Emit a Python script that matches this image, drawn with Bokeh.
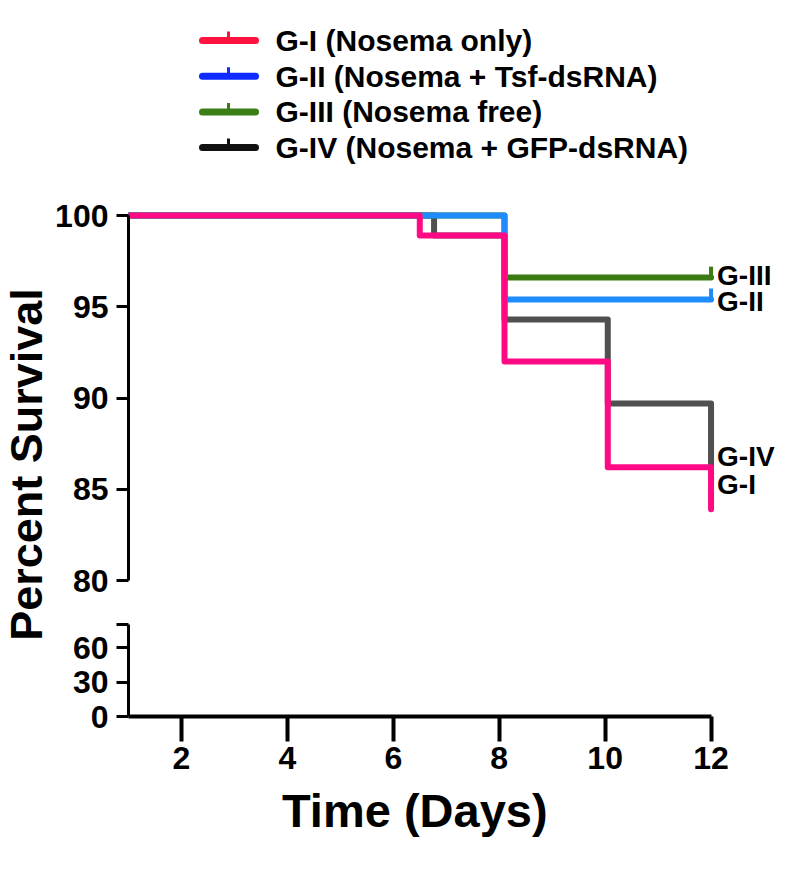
import math
from bokeh.plotting import figure
from bokeh.models import Range1d, FixedTicker, ColumnDataSource
from bokeh.layouts import column, row
from bokeh.embed import file_html
from bokeh.resources import INLINE
from bokeh.core.properties import value
from bokeh.core.validation import silence
from bokeh.core.validation.warnings import MISSING_RENDERERS

silence(MISSING_RENDERERS, True)

FONT = "Liberation Sans"

# ---------------- data ----------------
groups = ["G-I", "G-II", "G-III", "G-IV"]
legend_labels = ["G-I (Nosema only)", "G-II (Nosema + Tsf-dsRNA)",
                 "G-III (Nosema free)", "G-IV (Nosema + GFP-dsRNA)"]
legend_colors = ["#ff1240", "#0f2bff", "#3d7d18", "#111111"]
line_colors = ["#ff0a84", "#1e8cff", "#3b7b12", "#505050"]

g1_days = [1, 6.5, 8.1, 10.05, 12]
g1_surv = [100, 98.9, 92.0, 86.2, 83.9]
g2_days = [1, 8.1, 12]
g2_surv = [100, 95.4, 95.4]
g3_days = [1, 8.1, 12]
g3_surv = [100, 96.6, 96.6]
g4_days = [1, 6.77, 8.1, 10.05, 12]
g4_surv = [100, 98.9, 94.3, 89.7, 86.3]
censored_end = [False, True, True, False]

x_ticks = [2, 4, 6, 8, 10, 12]
x_bounds = (1, 12)
upper_ticks = [80, 85, 90, 95, 100]
lower_ticks = [0, 30, 60]
lower_cap = 80
x_title = "Time (Days)"
y_title = "Percent Survival"

series_days = [g1_days, g2_days, g3_days, g4_days]
series_surv = [g1_surv, g2_surv, g3_surv, g4_surv]

# ---------------- layout constants ----------------
W = 786
TW = 52
PW = W - TW
LB = 73
RB = 0
LEG_H = 168
UP_H = 432
LO_FRAME = 116
LO_H = LO_FRAME + 68
XT_H = 60
PX_DAY = 53.2
PX_UP = 18.25
PX_LO = 1.15

frame_w = PW - LB - RB
x_rng = Range1d(1, 1 + frame_w / PX_DAY)


def base(fig):
    fig.grid.visible = False
    fig.outline_line_color = None
    fig.background_fill_color = "white"
    fig.border_fill_color = "white"
    return fig


def style_axis(ax, width=3):
    ax.axis_line_width = width
    ax.axis_line_color = "black"
    ax.major_tick_line_width = width
    ax.major_tick_line_color = "black"
    ax.major_tick_in = 0
    ax.minor_tick_in = 0
    ax.minor_tick_out = 0
    ax.major_label_text_font = FONT
    ax.major_label_text_font_style = "bold"
    ax.major_label_text_font_size = "32px"
    ax.major_label_text_color = "black"


# ---------------- legend ----------------
leg = base(figure(width=W, height=LEG_H, x_range=Range1d(0, W), y_range=Range1d(0, LEG_H),
                  output_backend="svg", toolbar_location=None,
                  x_axis_location=None, y_axis_location=None, min_border=0))
row_y = [LEG_H - (40 + 35.7 * i) for i in range(len(legend_labels))]
leg.segment(x0=[202] * 4, y0=row_y, x1=[255] * 4, y1=row_y, line_color=legend_colors,
            line_width=7, line_cap="round")
leg.segment(x0=[228] * 4, y0=row_y, x1=[228] * 4, y1=[y + 9 for y in row_y],
            line_color=legend_colors, line_width=3)
leg.text(x=[275] * 4, y=row_y, text=legend_labels, text_font=value(FONT),
         text_font_style="bold", text_font_size="30px", text_baseline="middle",
         text_align="left", text_color="black")

# ---------------- y title ----------------
TH = UP_H + LO_H + XT_H
tit = base(figure(width=TW, height=TH, x_range=Range1d(0, TW), y_range=Range1d(0, TH),
                  output_backend="svg", toolbar_location=None,
                  x_axis_location=None, y_axis_location=None, min_border=0))
tit.text(x=[TW / 2], y=[TH - 296], text=[y_title], angle=math.pi / 2,
         text_font=value(FONT), text_font_style="bold", text_font_size="45px",
         text_baseline="middle", text_align="center", text_color="black")

# ---------------- upper panel ----------------
y_top = 100 + 47 / PX_UP
y_bot = 80 - (UP_H - 412) / PX_UP
up = base(figure(width=PW, height=UP_H, x_range=x_rng, y_range=Range1d(y_bot, y_top),
                 output_backend="svg", toolbar_location=None, x_axis_location=None,
                 min_border_left=LB, min_border_right=RB, min_border_top=0, min_border_bottom=0))
style_axis(up.yaxis[0], 3)
up.yaxis[0].ticker = FixedTicker(ticks=upper_ticks)
up.yaxis[0].bounds = (80, 100)
up.yaxis[0].major_tick_out = 12
up.yaxis[0].major_label_standoff = 8

for i in [3, 2, 1, 0]:
    up.step(x=series_days[i], y=series_surv[i], mode="after", line_color=line_colors[i],
            line_width=6, line_join="round", line_cap="round")
    if censored_end[i]:
        up.segment(x0=[series_days[i][-1]], y0=[series_surv[i][-1]],
                   x1=[series_days[i][-1]], y1=[series_surv[i][-1] + 0.6],
                   line_color=line_colors[i], line_width=4)

end_x = [d[-1] for d in series_days]
end_y = [s[-1] for s in series_surv]
lab_src = ColumnDataSource(dict(x=end_x, y=end_y, text=groups, dy=[-25, 2, -2, -9]))
up.text(x="x", y="y", text="text", source=lab_src, x_offset=6, y_offset="dy",
        text_font=value(FONT), text_font_style="bold", text_font_size="28px",
        text_baseline="middle", text_align="left", text_color="black")

# ---------------- lower panel ----------------
lo = base(figure(width=PW, height=LO_H, x_range=x_rng, y_range=Range1d(0, LO_FRAME / PX_LO),
                 output_backend="svg", toolbar_location=None,
                 min_border_left=LB, min_border_right=RB, min_border_top=0,
                 min_border_bottom=LO_H - LO_FRAME))
ly = lo.yaxis[0]
style_axis(ly, 3)
ly.ticker = FixedTicker(ticks=lower_ticks + [lower_cap])
ly.major_label_overrides = {lower_cap: ""}
ly.bounds = (0, lower_cap)
ly.major_tick_out = 12
ly.major_label_standoff = 8

lx = lo.xaxis[0]
style_axis(lx, 4)
lx.ticker = FixedTicker(ticks=x_ticks)
lx.bounds = x_bounds
lx.major_tick_out = 25
lx.major_label_standoff = 5

# ---------------- x title ----------------
xt = base(figure(width=PW, height=XT_H, x_range=x_rng, y_range=Range1d(0, XT_H),
                 output_backend="svg", toolbar_location=None,
                 x_axis_location=None, y_axis_location=None,
                 min_border_left=LB, min_border_right=RB, min_border_top=0, min_border_bottom=0))
xt.text(x=[(x_bounds[0] + x_bounds[1]) / 2], y=[XT_H - 26], text=[x_title], x_offset=-5,
        text_font=value(FONT), text_font_style="bold", text_font_size="47px",
        text_baseline="middle", text_align="center", text_color="black")

layout = column(leg, row(tit, column(up, lo, xt, spacing=0), spacing=0), spacing=0)

open("out.html", "w").write(file_html(layout, INLINE))
